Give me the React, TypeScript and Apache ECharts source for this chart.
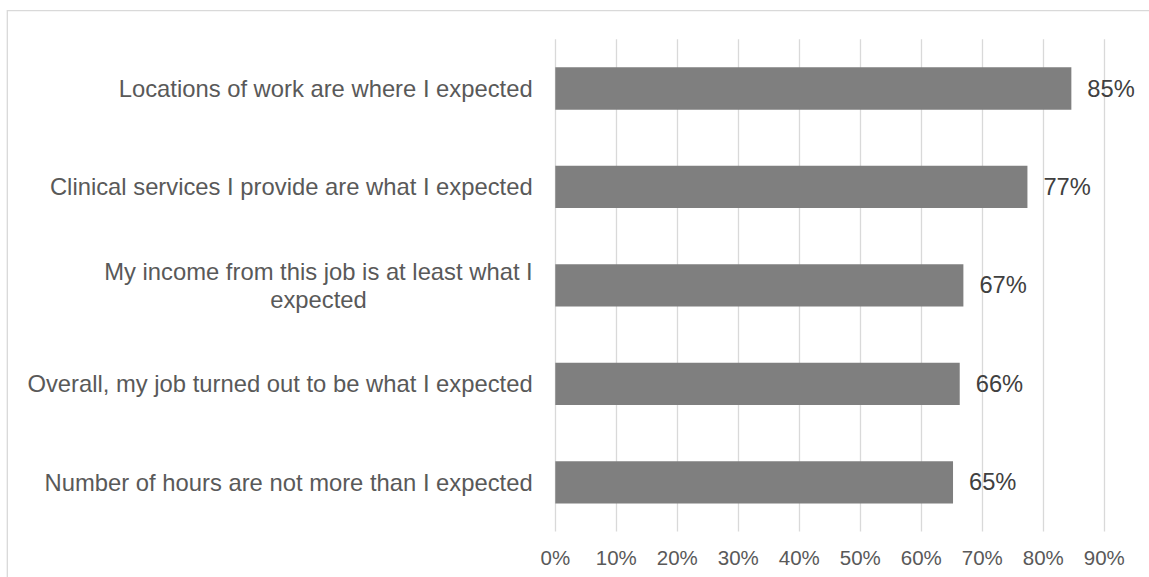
import React, { useEffect, useRef } from "react";
import * as echarts from "echarts";

const categories: string[] = [
  "Locations of work are where I expected",
  "Clinical services I provide are what I expected",
  "My income from this job is at least what I\nexpected",
  "Overall, my job turned out to be what I expected",
  "Number of hours are not more than I expected",
];
const values: number[] = [84.6, 77.4, 66.9, 66.3, 65.2];
const xTicks: number[] = [0, 10, 20, 30, 40, 50, 60, 70, 80, 90];

const FONT = "'Liberation Sans', Arial, sans-serif";

export default function App() {
  const ref = useRef<HTMLDivElement>(null);
  useEffect(() => {
    document.body.style.margin = "0";
    if (!ref.current) return;
    const chart = echarts.init(ref.current, null, { renderer: "svg" });
    chart.setOption({
      animation: false,
      backgroundColor: "#ffffff",
      textStyle: { fontFamily: FONT },
      grid: { left: 555.3, right: 44.7, top: 39.3, bottom: 45.5, containLabel: false },
      xAxis: {
        type: "value",
        min: xTicks[0],
        max: xTicks[xTicks.length - 1],
        interval: 10,
        axisLine: { show: false },
        axisTick: { show: false },
        splitLine: { show: true, lineStyle: { color: "#d9d9d9", width: 1.3 } },
        axisLabel: {
          formatter: (v: number) => `${v}%`,
          color: "#595959",
          fontSize: 20.5,
          fontFamily: FONT,
          margin: 15,
        },
      },
      yAxis: {
        type: "category",
        data: categories,
        inverse: true,
        axisLine: { show: false },
        axisTick: { show: false },
        splitLine: { show: false },
        axisLabel: {
          color: "#595959",
          fontSize: 23.8,
          fontFamily: FONT,
          margin: 22.6,
          lineHeight: 27.5,
          formatter: (v: string) => {
            const parts = v.split("\n");
            if (parts.length === 1) return v;
            return parts.map((p) => `{c|${p}}`).join("\n");
          },
          rich: {
            c: {
              align: "center",
              color: "#595959",
              fontSize: 23.8,
              fontFamily: FONT,
              lineHeight: 27.5,
            },
          },
        },
      },
      series: [
        {
          type: "bar",
          data: values,
          barWidth: 42.3,
          itemStyle: { color: "#7f7f7f" },
          label: {
            show: true,
            position: "right",
            distance: 16,
            color: "#404040",
            fontSize: 23.7,
            fontFamily: FONT,
            formatter: (p: any) => `${Math.round(p.value)}%`,
          },
        },
      ],
      graphic: [
        {
          type: "rect",
          shape: { x: 7.3, y: 10.7, width: 1300, height: 700 },
          style: { fill: "none", stroke: "#d9d9d9", lineWidth: 1.3 },
          silent: true,
        },
      ],
    });
    return () => chart.dispose();
  }, []);
  return (
    <div
      ref={ref}
      style={{ position: "absolute", left: 0, top: 0, width: 1149, height: 577 }}
    />
  );
}
